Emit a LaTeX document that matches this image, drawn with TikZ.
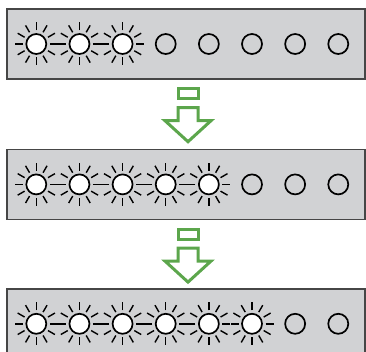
\documentclass[tikz,border=0pt]{standalone}
\usepackage{xcolor}
\usepackage{tikz}
\usetikzlibrary{positioning}
\definecolor{panelgray}{RGB}{209,210,212}
\definecolor{panelline}{RGB}{70,70,70}
\definecolor{arrowgreen}{RGB}{92,166,76}
\begin{document}
\begin{tikzpicture}[x=1pt, y=-1pt,
  panel/.style={draw=panelline, fill=panelgray, line width=1.4pt,
    minimum width=358pt, minimum height=70pt, inner sep=0pt},
  lamp/.style={circle, draw=black, line width=1.7pt, minimum size=20pt, inner sep=0pt},
  lit/.style={lamp, fill=white},
  ray/.style={line width=1.4pt},
  blockarrow/.style={draw=arrowgreen, line width=3pt, fill=white, line join=miter}
]
\useasboundingbox (0,0) rectangle (366,352);
\clip (0,0) rectangle (366,352);
\node[panel] (p1) at (186,44) {};
\node[panel, below=69pt of p1] (p2) {};
\node[panel, below=68pt of p2] (p3) {};
% lamps, the first \n of each row are lit
\foreach \p/\n in {p1/3, p2/5, p3/6} {
  \foreach \i in {1,...,8} {
    \ifnum\i>\n
      \node[lamp] (\p-\i) at ([xshift={30pt+43.14pt*(\i-1)}]\p.west) {};
    \else
      \node[lit] (\p-\i) at ([xshift={30pt+43.14pt*(\i-1)}]\p.west) {};
      \foreach \a in {0,30,...,330}
        \draw[ray] ([shift={(\a:13.5pt)}]\p-\i.center) -- ([shift={(\a:21.5pt)}]\p-\i.center);
    \fi
  }
}
% arrows between the panels
\coordinate (a1) at ([xshift=2pt]p1.south);
\coordinate (a2) at ([xshift=2pt]p2.south);
\foreach \a in {a1, a2} {
  \begin{scope}[shift={(\a)}]
    \draw[blockarrow] (-10,9) rectangle (10,19);
    \draw[blockarrow] (-10,28) -- (10,28) -- (10,41) -- (23,41) -- (0,62)
      -- (-23,41) -- (-10,41) -- cycle;
  \end{scope}
}
\end{tikzpicture}
\end{document}
